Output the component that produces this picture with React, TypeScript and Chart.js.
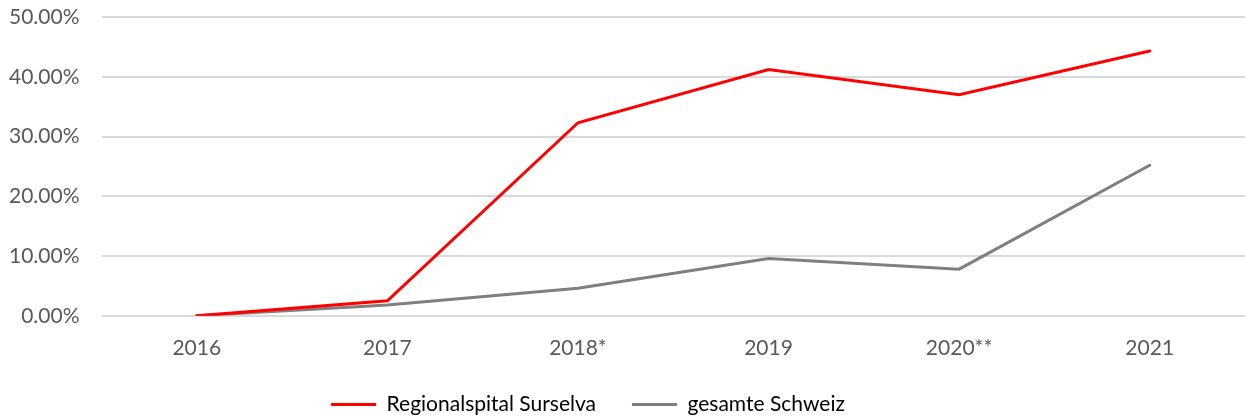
import React, { useEffect, useRef } from "react";
import { Chart, registerables } from "chart.js";

Chart.register(...registerables);

const categories = ["2016", "2017", "2018*", "2019", "2020**", "2021"];
const surselva = [0, 2.5, 32.3, 41.2, 37.0, 44.3];
const schweiz = [0, 1.8, 4.6, 9.6, 7.8, 25.2];
const yTicks = [0, 10, 20, 30, 40, 50];

const legendShift = {
  id: "legendShift",
  afterLayout(chart: any) {
    const lg = chart.legend;
    if (lg) {
      lg.left -= 28;
      lg.right -= 28;
    }
  },
};

export default function App() {
  const ref = useRef<HTMLCanvasElement | null>(null);
  useEffect(() => {
    if (!ref.current) return;
    const font = "Lato, 'Open Sans', sans-serif";
    const chart = new Chart(ref.current, {
      type: "line",
      data: {
        labels: categories,
        datasets: [
          {
            label: "Regionalspital Surselva",
            data: surselva,
            borderColor: "#ff0000",
            backgroundColor: "#ff0000",
            borderWidth: 3,
            pointRadius: 0,
            tension: 0,
            borderCapStyle: "round",
          },
          {
            label: "gesamte Schweiz",
            data: schweiz,
            borderColor: "#7f7f7f",
            backgroundColor: "#7f7f7f",
            borderWidth: 3,
            pointRadius: 0,
            tension: 0,
            borderCapStyle: "round",
          },
        ],
      },
      plugins: [legendShift],
      options: {
        animation: false,
        responsive: false,
        maintainAspectRatio: false,
        layout: { padding: { top: 0, right: 0, left: -13, bottom: -7 } },
        plugins: {
          tooltip: { enabled: false },
          legend: {
            position: "bottom",
            labels: {
              usePointStyle: true,
              pointStyle: "line",
              pointStyleWidth: 45,
              boxHeight: 3,
              color: "#000000",
              font: { family: font, size: 21 },
              padding: 36,
            },
          },
        },
        scales: {
          x: {
            offset: true,
            grid: { display: false },
            border: { display: false },
            ticks: { color: "#595959", font: { family: font, size: 21 }, padding: 12 },
            afterFit: (scale: any) => {
              scale.height -= 15;
            },
          },
          y: {
            min: 0,
            max: 50,
            afterBuildTicks: (axis: any) => {
              axis.ticks = yTicks.map((v) => ({ value: v }));
            },
            afterFit: (scale: any) => {
              scale.paddingTop = 17;
              scale.paddingBottom = 0;
            },
            grid: { color: "#d9d9d9", lineWidth: 2, drawTicks: false },
            border: { display: false },
            ticks: {
              color: "#595959",
              font: { family: font, size: 21 },
              padding: 22,
              callback: (v: any) => Number(v).toFixed(2) + "%",
            },
          },
        },
      },
    });
    return () => chart.destroy();
  }, []);
  return (
    <div style={{ position: "absolute", left: 0, top: 0, width: 1245, height: 418, background: "#fff" }}>
      <canvas ref={ref} width={1245} height={418} style={{ display: "block" }} />
    </div>
  );
}
